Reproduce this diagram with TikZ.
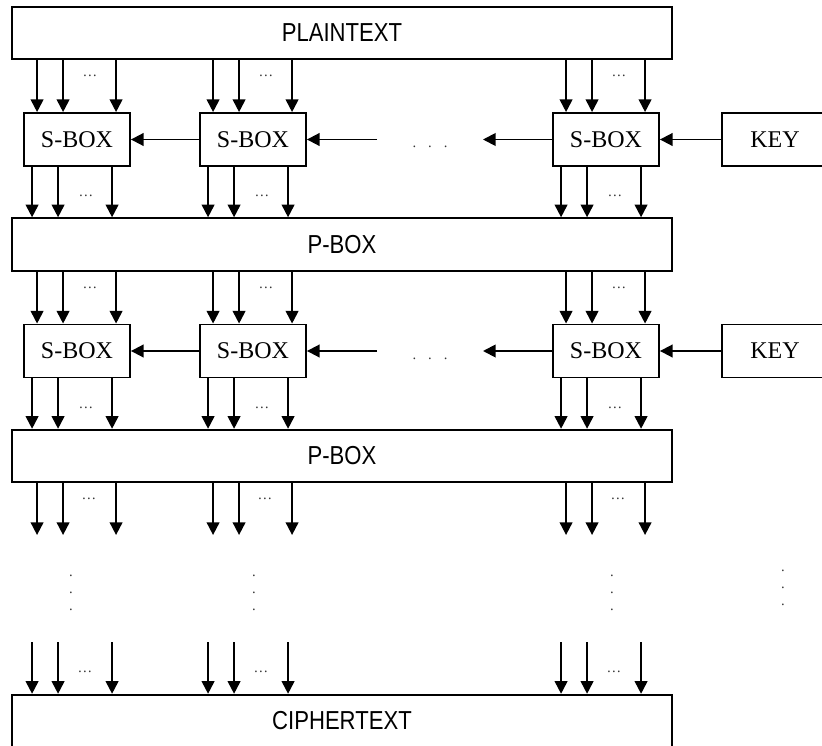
\documentclass[tikz,border=0pt]{standalone}
\usepackage{fontspec}
\setmainfont{Liberation Serif}
\setsansfont[FakeStretch=0.85]{Liberation Sans}
\usetikzlibrary{arrows.meta}

\begin{document}
\begin{tikzpicture}[x=0.75pt, y=-0.75pt,
  wide/.style={draw, line width=1.4pt, minimum width=495pt, minimum height=39.4pt, inner sep=0pt, font=\sffamily\fontsize{19.5}{20}\selectfont},
  sbox/.style={draw, line width=1.4pt, minimum width=79.5pt, minimum height=39.75pt, inner sep=0pt, font=\fontsize{18}{20}\selectfont},
  dts/.style={inner sep=0pt, text=black!80, font=\fontsize{11}{12.5}\selectfont, align=center},
  ar/.style={line width=1.4pt, -{Triangle[length=9.5pt,width=9.5pt]}}
]
\useasboundingbox (0,0) rectangle (822,746);
\clip (0,0) rectangle (822,746);

\node[wide] (plain) at (342,33) {PLAINTEXT};
\node[sbox] (a1) at (77,139.5) {S-BOX};
\node[sbox] (a2) at (253,139.5) {S-BOX};
\node[sbox] (a3) at (606,139.5) {S-BOX};
\node[sbox] (k1) at (775,139.5) {KEY};
\node[wide] (pa) at (342,244.5) {P-BOX};
\node[sbox] (b1) at (77,351) {S-BOX};
\node[sbox] (b2) at (253,351) {S-BOX};
\node[sbox] (b3) at (606,351) {S-BOX};
\node[sbox] (k2) at (775,351) {KEY};
\node[wide] (pb) at (342,456) {P-BOX};
\node[wide] (ct) at (342,721) {CIPHERTEXT};

\coordinate (tipsend) at (0,535);
\coordinate (tailstart) at (0,642);
\coordinate (ha1) at (483,139.5);
\coordinate (ha2) at (377,139.5);
\coordinate (hb1) at (483,351);
\coordinate (hb2) at (377,351);

\node[dts] (hda) at (430,147) {.\hspace{9pt}.\hspace{9pt}.};
\node[dts] (hdb) at (430,358.5) {.\hspace{9pt}.\hspace{9pt}.};
\node[dts] (vd1) at (71,593) {.\\.\\.};
\node[dts] (vd2) at (254,593) {.\\.\\.};
\node[dts] (vd3) at (612,593) {.\\.\\.};
\node[dts] (vd4) at (783,588) {.\\.\\.};

\draw[ar] (k1) -- (a3);
\draw[ar] (a3) -- (ha1);
\draw[ar] (ha2) -- (a2);
\draw[ar] (a2) -- (a1);
\draw[ar] (k2) -- (b3);
\draw[ar] (b3) -- (hb1);
\draw[ar] (hb2) -- (b2);
\draw[ar] (b2) -- (b1);

\foreach \n in {1,2,3} {
  \foreach \dx in {14,40,93} {
    \path (a\n.north west) ++(\dx,0) coordinate (t);
    \draw[ar] (t |- plain.south) -- (t);
    \path (b\n.north west) ++(\dx,0) coordinate (t);
    \draw[ar] (t |- pa.south) -- (t);
    \draw[ar] (t |- pb.south) -- (t |- tipsend);
  }
  \foreach \dx in {9,35,89} {
    \path (a\n.south west) ++(\dx,0) coordinate (t);
    \draw[ar] (t) -- (t |- pa.north);
    \path (b\n.south west) ++(\dx,0) coordinate (t);
    \draw[ar] (t) -- (t |- pb.north);
    \draw[ar] (t |- tailstart) -- (t |- ct.north);
  }
  \path (a\n.north west) ++(67,-36) node[dts] (ia\n) {\dots};
  \path (a\n.south west) ++(63,29) node[dts] (oa\n) {\dots};
  \path (b\n.north west) ++(67,-36) node[dts] (ib\n) {\dots};
  \path (b\n.south west) ++(63,29) node[dts] (ob\n) {\dots};
  \path (b\n.north west) ++(66,175) node[dts] (ic\n) {\dots};
  \path (b\n.north west) ++(62,348) node[dts] (oc\n) {\dots};
}
\end{tikzpicture}
\end{document}
